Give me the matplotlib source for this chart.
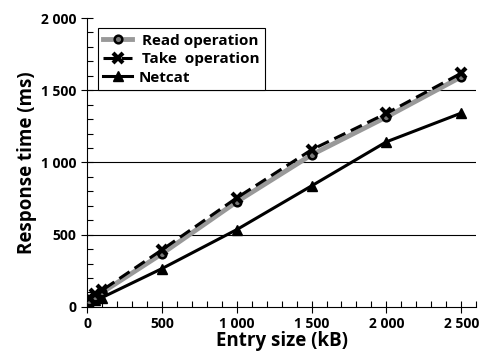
import matplotlib
matplotlib.use("Agg")
import matplotlib.pyplot as plt
from matplotlib.ticker import MultipleLocator, FuncFormatter

sizes = [10, 50, 100, 500, 1000, 1500, 2000, 2500]
read_op = [40, 70, 100, 368, 728, 1053, 1315, 1593]
take_op = [60, 90, 115, 395, 755, 1088, 1340, 1618]
netcat = [30, 50, 65, 265, 535, 838, 1143, 1342]
labels = [" Read operation", " Take  operation", "Netcat"]

plt.rcParams['font.family'] = ['Open Sans', 'DejaVu Sans']
plt.rcParams['font.weight'] = 'bold'

fig = plt.figure(figsize=(4.81, 3.54), dpi=100)
ax = fig.add_axes([0.181, 0.133, 0.809, 0.816])

for yv in [500, 1000, 1500]:
    ax.axhline(yv, color='black', lw=0.8, zorder=1)

ax.plot(sizes, read_op, color='#999999', lw=3.5, marker='o', ms=5.5,
        mfc='#777777', mec='black', mew=1.8, label=labels[0], zorder=3)
ax.plot(sizes, take_op, color='black', lw=2.2, ls=(0, (4, 2)), marker='x', ms=7.5,
        mew=3, label=labels[1], zorder=4)
ax.plot(sizes, netcat, color='black', lw=2.2, marker='^', ms=6.5,
        label=labels[2], zorder=2)

ax.set_xlim(0, 2600)
ax.set_ylim(0, 2000)
ax.xaxis.set_major_locator(MultipleLocator(500))
ax.xaxis.set_minor_locator(MultipleLocator(100))
ax.yaxis.set_major_locator(MultipleLocator(500))
ax.yaxis.set_minor_locator(MultipleLocator(100))
fmt = FuncFormatter(lambda v, p: f"{int(v):,}".replace(",", " "))
ax.xaxis.set_major_formatter(fmt)
ax.yaxis.set_major_formatter(fmt)
ax.tick_params(which='major', direction='inout', length=8, width=0.8, labelsize=10)
ax.tick_params(which='minor', direction='in', length=4, width=0.8)
for lab in ax.get_xticklabels() + ax.get_yticklabels():
    lab.set_fontweight('bold')

ax.spines['top'].set_visible(False)
ax.spines['right'].set_visible(False)

ax.set_xlabel("Entry size (kB)", fontsize=13.5, fontweight='bold', labelpad=0)
ax.set_ylabel("Response time (ms)", fontsize=13.5, fontweight='bold', labelpad=3)

leg = ax.legend(loc='upper left', bbox_to_anchor=(0.02, 0.975), fancybox=False,
                edgecolor='black', framealpha=1, handlelength=1.9,
                prop={'weight': 'bold', 'size': 11}, borderpad=0.35,
                labelspacing=0.3, handletextpad=0.4, borderaxespad=0.2)
leg.get_frame().set_linewidth(0.8)

fig.savefig("out.png", dpi=100)
